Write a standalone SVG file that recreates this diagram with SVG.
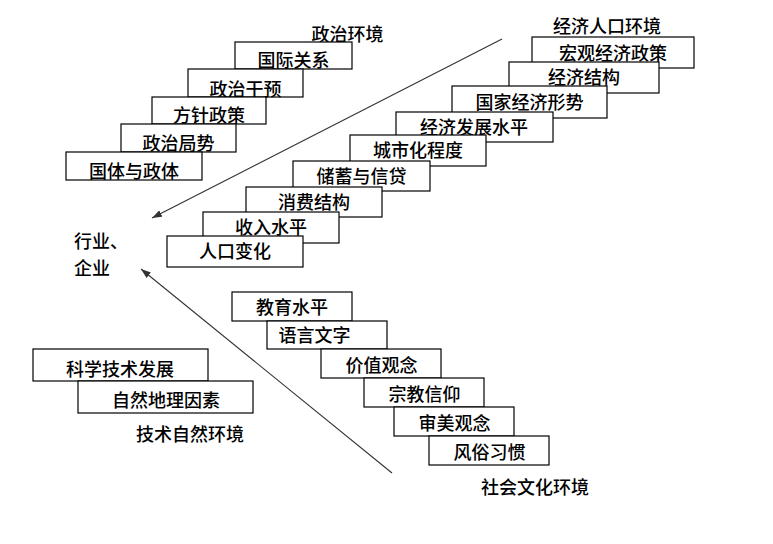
<svg xmlns="http://www.w3.org/2000/svg" width="773" height="544" viewBox="0 0 773 544">
<style>
  .box { fill: #fff; stroke: #000; stroke-width: 1.2; }
  .t { font-family: "Noto Sans CJK SC", "Noto Sans", sans-serif; font-size: 18px; font-weight: 500; fill: #000; text-anchor: middle; }
  .lbl { font-family: "Noto Sans CJK SC", "Noto Sans", sans-serif; font-size: 18px; font-weight: 500; fill: #000; }
  .conn { stroke: #333; stroke-width: 1.1; fill: none; }
</style>
<defs>
  <marker id="ah" viewBox="0 0 10 7" markerWidth="10" markerHeight="7" refX="10" refY="3.5" orient="auto" markerUnits="userSpaceOnUse">
    <path d="M0,0 L10,3.5 L0,7 z" fill="#333"/>
  </marker>
</defs>
<rect width="773" height="544" fill="#fff"/>

<g id="political">
  <text class="t" x="347.5" y="40.5">政治环境</text>
  <g id="p1"><rect class="box" x="235" y="42" width="117" height="27"/><text class="t" x="293.5" y="67">国际关系</text></g>
  <g id="p2"><rect class="box" x="188" y="69" width="115" height="28"/><text class="t" x="245.5" y="95.5">政治干预</text></g>
  <g id="p3"><rect class="box" x="152" y="97" width="114" height="27"/><text class="t" x="209" y="121.5">方针政策</text></g>
  <g id="p4"><rect class="box" x="121" y="124" width="115" height="28"/><text class="t" x="178.5" y="149.5">政治局势</text></g>
  <g id="p5"><rect class="box" x="66" y="152" width="136" height="28"/><text class="t" x="134" y="177.5">国体与政体</text></g>
</g>

<g id="economic">
  <text class="t" x="607" y="32.5">经济人口环境</text>
  <g id="e1"><rect class="box" x="532" y="37" width="162" height="31"/><text class="t" x="613" y="59.5">宏观经济政策</text></g>
  <g id="e2"><rect class="box" x="509" y="62" width="150" height="31"/><text class="t" x="584" y="83.5">经济结构</text></g>
  <g id="e3"><rect class="box" x="452" y="86" width="155" height="32"/><text class="t" x="529.5" y="108.5">国家经济形势</text></g>
  <g id="e4"><rect class="box" x="396" y="112" width="157" height="30"/><text class="t" x="474" y="133.5">经济发展水平</text></g>
  <g id="e5"><rect class="box" x="350" y="135" width="136" height="31"/><text class="t" x="418" y="156.5">城市化程度</text></g>
  <g id="e6"><rect class="box" x="293" y="161" width="137" height="30"/><text class="t" x="361.5" y="182.5">储蓄与信贷</text></g>
  <g id="e7"><rect class="box" x="246" y="187" width="136" height="30"/><text class="t" x="314" y="208.5">消费结构</text></g>
  <g id="e8"><rect class="box" x="203" y="212" width="136" height="31"/><text class="t" x="271" y="233.5">收入水平</text></g>
  <g id="e9"><rect class="box" x="167" y="236" width="136" height="31"/><text class="t" x="235" y="257.5">人口变化</text></g>
</g>

<g id="center">
  <text class="lbl" x="74" y="247.5">行业、</text>
  <text class="lbl" x="74" y="274.5">企业</text>
</g>

<g id="social">
  <g id="s1"><rect class="box" x="232" y="292" width="120" height="29"/><text class="t" x="292" y="313.5">教育水平</text></g>
  <g id="s2"><rect class="box" x="267" y="321" width="120" height="28"/><text class="t" x="314.5" y="341.5">语言文字</text></g>
  <g id="s3"><rect class="box" x="321" y="349" width="120" height="29"/><text class="t" x="381.5" y="371.5">价值观念</text></g>
  <g id="s4"><rect class="box" x="364" y="378" width="120" height="29"/><text class="t" x="424.5" y="400.5">宗教信仰</text></g>
  <g id="s5"><rect class="box" x="394" y="407" width="120" height="29"/><text class="t" x="454.5" y="429.5">审美观念</text></g>
  <g id="s6"><rect class="box" x="429" y="436" width="120" height="29"/><text class="t" x="489.5" y="458.5">风俗习惯</text></g>
  <text class="t" x="535" y="494">社会文化环境</text>
</g>

<g id="tech">
  <g id="t1"><rect class="box" x="33" y="349" width="175" height="32"/><text class="t" x="120" y="376">科学技术发展</text></g>
  <g id="t2"><rect class="box" x="78" y="381" width="175" height="32"/><text class="t" x="166" y="407">自然地理因素</text></g>
  <text class="t" x="190" y="441">技术自然环境</text>
</g>

<g id="connectors">
  <line class="conn" x1="502" y1="39" x2="152" y2="218" marker-end="url(#ah)"/>
  <line class="conn" x1="392" y1="473" x2="141" y2="269" marker-end="url(#ah)"/>
</g>
</svg>
